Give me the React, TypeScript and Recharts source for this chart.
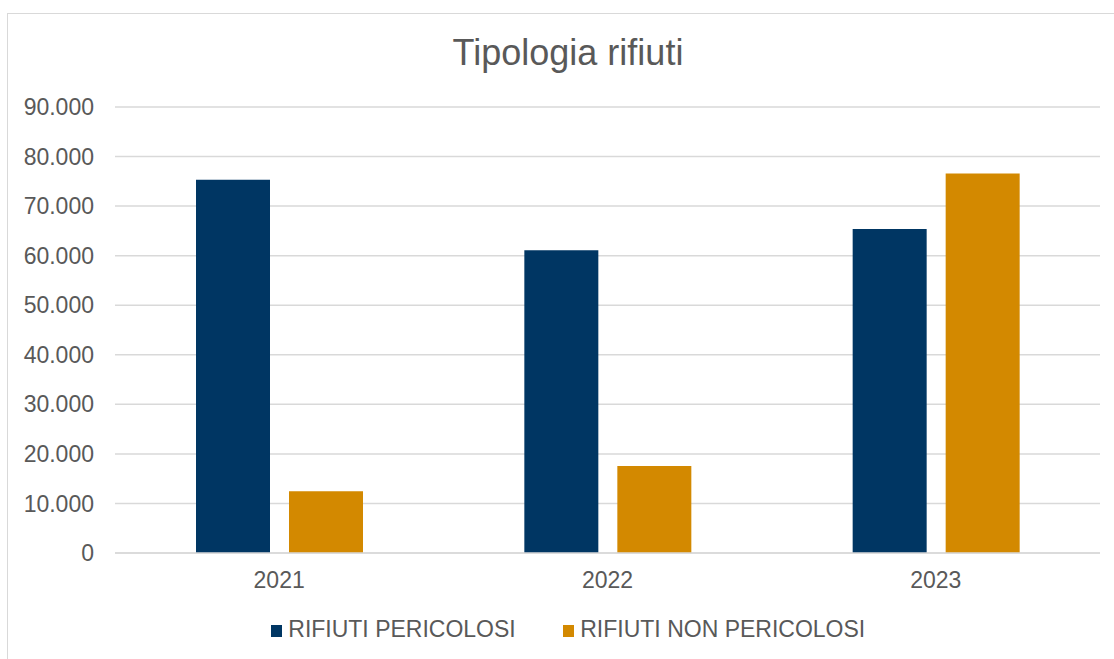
import React from 'react';
import { BarChart, Bar, XAxis, YAxis, CartesianGrid, Legend } from 'recharts';

const years = ['2021', '2022', '2023'];
const pericolosi = [75300, 61100, 65400];
const nonPericolosi = [12450, 17550, 76600];
const yTicks = [0, 10000, 20000, 30000, 40000, 50000, 60000, 70000, 80000, 90000];
const seriesNames = ['RIFIUTI PERICOLOSI', 'RIFIUTI NON PERICOLOSI'];

const data = years.map((y, i) => ({
  anno: y,
  pericolosi: pericolosi[i],
  nonPericolosi: nonPericolosi[i],
}));

const FONT = '"Liberation Sans", Arial, sans-serif';
const TEXT = '#595959';

// formato italiano: 10.000
const fmt = (v: number) => String(v).replace(/\B(?=(\d{3})+(?!\d))/g, '.');

const LegendContent = (props: any) => {
  // keep the series order (recharts sorts by name otherwise)
  const items = [...(props.payload || [])].sort(
    (a: any, b: any) => seriesNames.indexOf(a.value) - seriesNames.indexOf(b.value)
  );
  return (
    <div style={{ display: 'flex', justifyContent: 'center', width: 1136, fontFamily: FONT, fontSize: 23, lineHeight: '23px', color: TEXT }}>
      {items.map((it: any, i: number) => (
        <div key={i} style={{ display: 'flex', alignItems: 'center', marginLeft: i === 0 ? 0 : 47 }}>
          <span style={{ display: 'inline-block', width: 11.5, height: 11.5, background: it.color, marginRight: 6, position: 'relative', top: 2 }} />
          <span>{it.value}</span>
        </div>
      ))}
    </div>
  );
};

export default function App() {
  return (
    <div style={{ position: 'absolute', left: 0, top: 0, width: 1114, height: 659, overflow: 'hidden', background: '#fff' }}>
      <div style={{ position: 'absolute', left: 7, top: 13, width: 1200, height: 700, border: '1.5px solid #d9d9d9' }} />
      <div style={{ position: 'absolute', left: 0, top: 34.5, width: 1136, textAlign: 'center', fontFamily: FONT, fontSize: 36, lineHeight: '36px', color: TEXT }}>
        Tipologia rifiuti
      </div>
      <div style={{ position: 'absolute', left: 0, top: 0 }}>
        <BarChart
          width={1114}
          height={659}
          data={data}
          margin={{ top: 107, right: 14, left: 0, bottom: 76 }}
          barGap={19}
          barSize={74}
        >
          <CartesianGrid vertical={false} stroke="#d9d9d9" strokeWidth={1.5} />
          <XAxis
            dataKey="anno"
            height={30}
            axisLine={{ stroke: '#d9d9d9', strokeWidth: 1.5 }}
            tickLine={false}
            tickSize={0}
            tickMargin={19}
            tick={{ fill: TEXT, fontSize: 23, fontFamily: FONT }}
          />
          <YAxis
            width={115}
            domain={[0, 90000]}
            ticks={yTicks}
            tickFormatter={fmt}
            axisLine={false}
            tickLine={false}
            tickSize={0}
            tickMargin={21}
            tick={{ fill: TEXT, fontSize: 23, fontFamily: FONT }}
          />
          <Legend
            layout="horizontal"
            verticalAlign="middle"
            align="center"
            content={<LegendContent />}
            wrapperStyle={{ top: 617.5, left: 0, width: 1136 }}
          />
          <Bar dataKey="pericolosi" name={seriesNames[0]} fill="#003663" isAnimationActive={false} />
          <Bar dataKey="nonPericolosi" name={seriesNames[1]} fill="#D38900" isAnimationActive={false} />
        </BarChart>
      </div>
    </div>
  );
}
